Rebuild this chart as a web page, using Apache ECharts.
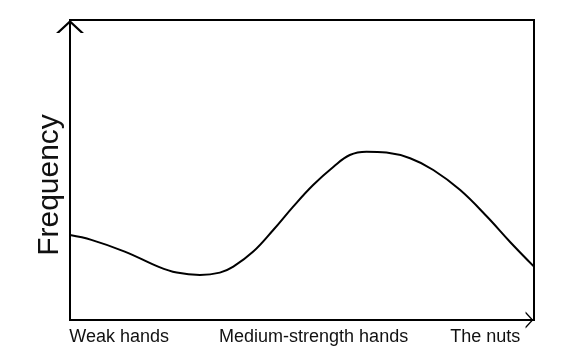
<!DOCTYPE html>
<html><head><meta charset="utf-8">
<script src="https://cdn.jsdelivr.net/npm/echarts@6/dist/echarts.min.js"></script>
<style>html,body{margin:0;padding:0;background:#fff}#c{width:582px;height:356px}</style>
</head><body><div id="c"></div>
<script>
var strengthX = [0, 4.6, 11.8, 19.0, 23.0, 28.0, 32.3, 35.2, 39.5, 43.8, 48.1, 52.4, 56.8, 60.3, 63.9, 68.2, 73.3, 78.3, 84.1, 89.9, 94.8, 100];
var frequencyY = [28.3, 26.7, 22.8, 17.8, 15.8, 15.0, 15.8, 17.8, 22.8, 30.0, 37.8, 45.0, 51.1, 55.0, 56.1, 55.8, 53.9, 50.0, 43.3, 34.4, 26.1, 17.8];
var tickLabels = ['Weak hands', 'Medium-strength hands', 'The nuts'];
var tickValues = [10.6, 52.5, 89.5];
var yName = 'Frequency';

var pts = strengthX.map(function (x, i) { return [x, frequencyY[i]]; });
var chevron = 'path://M0,12 L13,0 L26,12 L23,12 L13,2.8 L3,12 Z';
var font = 'Liberation Sans, Arial, sans-serif';

var chart = echarts.init(document.getElementById('c'), null, {renderer: 'canvas'});
chart.setOption({
  animation: false,
  backgroundColor: '#fff',
  grid: {left: 70, right: 48, top: 20, bottom: 36, show: true, borderColor: '#000', borderWidth: 2, backgroundColor: 'transparent'},
  xAxis: {
    type: 'value', min: 0, max: 100,
    axisLine: {show: true, lineStyle: {color: '#000', width: 2}, symbol: ['none', chevron], symbolSize: [17, 11], symbolOffset: [0, -4.5]},
    axisTick: {show: false},
    splitLine: {show: false},
    axisLabel: {
      customValues: tickValues,
      formatter: function (v) { var i = tickValues.indexOf(v); return i >= 0 ? tickLabels[i] : ''; },
      color: '#111', fontSize: 18, fontFamily: font, margin: 8,
      showMinLabel: true, showMaxLabel: true
    }
  },
  yAxis: {
    type: 'value', min: 0, max: 100,
    axisLine: {show: true, lineStyle: {color: '#000', width: 2}, symbol: ['none', chevron], symbolSize: [28, 13], symbolOffset: [0, -6.5]},
    axisTick: {show: false},
    splitLine: {show: false},
    axisLabel: {show: false},
    name: yName, nameLocation: 'middle', nameGap: 5, nameRotate: 90,
    nameTextStyle: {color: '#111', fontSize: 30, fontFamily: font, padding: [0, 30, 0, 0]}
  },
  series: [{
    type: 'line', data: pts, smooth: 0.4, showSymbol: false,
    lineStyle: {color: '#000', width: 2}
  }]
});
</script></body></html>
